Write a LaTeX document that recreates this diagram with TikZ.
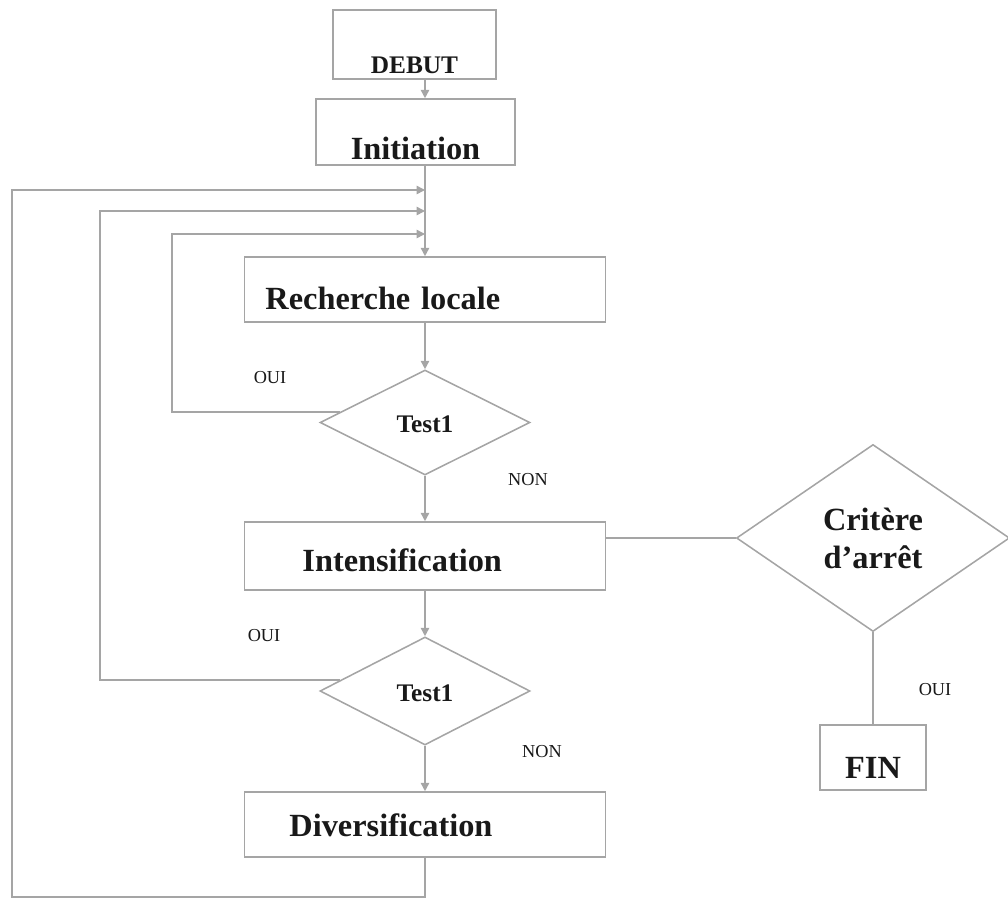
\documentclass[tikz,border=0pt]{standalone}
\usepackage{fontspec}
\setmainfont{Liberation Serif}
\usetikzlibrary{shapes.geometric,arrows.meta,calc}
\definecolor{lignegris}{RGB}{165,165,165}
\begin{document}
\begin{tikzpicture}[x=0.025cm, y=-0.025cm, line width=1.1pt,
    every node/.style={font=\bfseries\fontsize{23}{27}\selectfont, text=black!90},
    boite/.style={rectangle, draw=lignegris, minimum width=9.025cm, inner ysep=0pt},
    losange/.style={diamond, draw=lignegris, inner sep=0pt, minimum width=5.25cm},
    etiq/.style={font=\fontsize{13}{15}\selectfont},
    fleche/.style={draw=lignegris, -{Triangle[length=6pt,width=6pt]}},
    lien/.style={draw=lignegris}]
\useasboundingbox (0,0) rectangle (1008,902);
% Boites
\node[boite, minimum width=4.075cm, text height=1.575cm, text depth=0.15cm,
      font=\bfseries\fontsize{18}{21}\selectfont] (debut) at (414.5,44.5) {DEBUT};
\node[boite, minimum width=4.975cm, text height=1.5cm, text depth=0.15cm] (init) at (415.5,132) {Initiation};
\node[boite, inner xsep=0.525cm, text width=7.975cm, align=left,
      text height=1.3cm, text depth=0.325cm] (rech) at (425,289.5) {Recherche locale};
\node[losange, minimum height=2.625cm, text height=0.55cm, text depth=0.05cm,
      font=\bfseries\fontsize{18}{21}\selectfont] (test1) at (425,422.5) {Test1};
\node[boite, inner xsep=1.45cm, text width=6.125cm, align=left,
      text height=1.225cm, text depth=0.475cm] (inten) at (425,556) {Intensification};
\node[losange, minimum height=2.7cm, text height=0.55cm, text depth=0.05cm,
      font=\bfseries\fontsize{18}{21}\selectfont] (test2) at (425,691) {Test1};
\node[boite, inner xsep=1.125cm, text width=6.775cm, align=left,
      text height=1.1cm, text depth=0.525cm] (diver) at (425,824.5) {Diversification};
\node[losange, minimum width=6.825cm, minimum height=4.675cm, align=center] (crit) at (873,538) {Critère\\d’arrêt};
\node[boite, minimum width=2.65cm, text height=1.325cm, text depth=0.3cm] (fin) at (873,757.5) {FIN};
% Etiquettes
\node[etiq] (oui1) at (270,378) {OUI};
\node[etiq] (non1) at (528,480) {NON};
\node[etiq] (oui2) at (264,636) {OUI};
\node[etiq] (non2) at (542,752) {NON};
\node[etiq] (oui3) at (935,690) {OUI};
% Boucles
\coordinate (b1) at (172,234);
\coordinate (b2) at (100,211);
\coordinate (b3) at (12,190);
\coordinate (bas) at (12,897);
\coordinate (e1) at ($(test1.west)!0.2!(test1.north)$);
\coordinate (e2) at ($(test2.west)!0.2!(test2.north)$);
% Fleches
\draw[fleche] (debut.south -| rech.north) -- (init.north -| rech.north);
\draw[fleche] (init.south -| rech.north) -- (rech.north);
\draw[fleche] (rech.south) -- (test1.north);
\draw[fleche] (test1.south) -- (inten.north);
\draw[fleche] (inten.south) -- (test2.north);
\draw[fleche] (test2.south) -- (diver.north);
\draw[fleche] (e1) -| (b1) -- (b1 -| rech.north);
\draw[fleche] (e2) -| (b2) -- (b2 -| rech.north);
\draw[fleche] (diver.south) |- (bas) -- (b3) -- (b3 -| rech.north);
\draw[lien] (crit.west -| inten.east) -- (crit.west);
\draw[lien] (crit.south) -- (fin.north);
\end{tikzpicture}
\end{document}
